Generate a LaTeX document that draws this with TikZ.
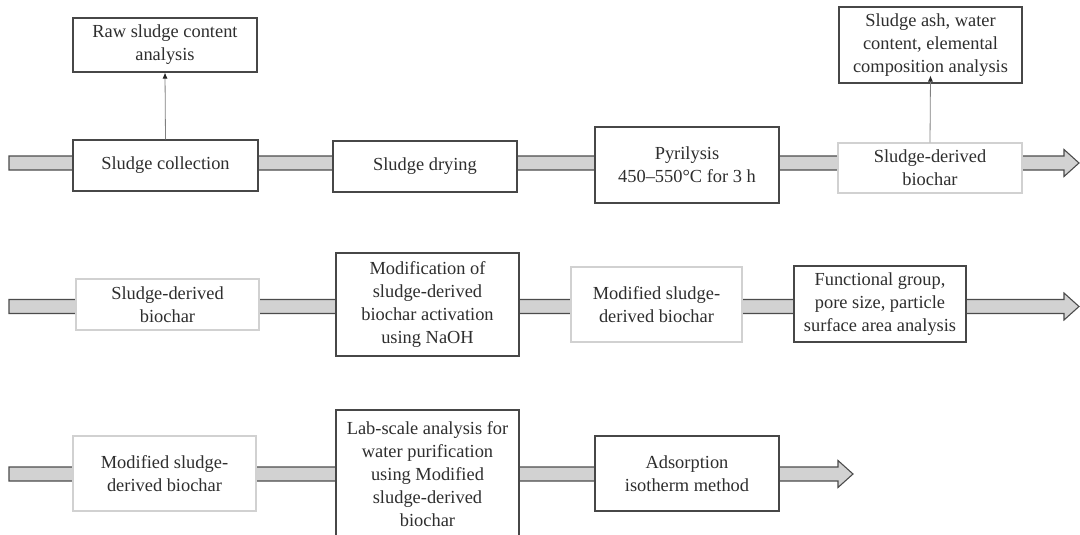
\documentclass[tikz,border=0pt]{standalone}
\usepackage{fontspec}
\setmainfont{Liberation Serif}
\usetikzlibrary{arrows.meta,calc,positioning}

\tikzset{
  etape/.style={draw=black!72, line width=1.1pt, fill=white, align=center, inner sep=2pt,
    text=black!82, font=\fontsize{18.4}{23}\selectfont},
  etapeclaire/.style={etape, draw=black!18},
  bandeflux/.style={draw=black!70, line width=1.1pt, fill=gray!35},
  fleche/.style={draw=black!50, line width=0.8pt, -{Latex[length=6pt,width=5pt,black!85]}}
}

% bande de flux entre deux coordonnees de meme hauteur
\newcommand{\bandeflux}[2]{%
  \filldraw[bandeflux] ($(#1)+(0,-\demi)$) -- ($(#2)+(-\longpointe,-\demi)$)
    -- ($(#2)+(-\longpointe,-\pointe)$) -- (#2) -- ($(#2)+(-\longpointe,\pointe)$)
    -- ($(#2)+(-\longpointe,\demi)$) -- ($(#1)+(0,\demi)$) -- cycle;}

\begin{document}
\begin{tikzpicture}[x=1pt,y=-1pt]

%%%%%%%%%%%%%%%%%%%%%%
%%%	 Def geometrie  %%%
%%%%%%%%%%%%%%%%%%%%%%

\def \demi{7}
\def \pointe{13.5}
\def \longpointe{15}
\def \ligneun{163}
\def \lignedeux{306.5}
\def \lignetrois{474}

\useasboundingbox[fill=white] (0,0) rectangle (1080,535);
\clip (0,0) rectangle (1080,535);

%%%%%%%%%%%%%%%%%%%%%%
%%%	    Bandes      %%%
%%%%%%%%%%%%%%%%%%%%%%

\coordinate (debutun) at (9,\ligneun);
\coordinate (finun) at (1079,\ligneun);
\coordinate (debutdeux) at (9,\lignedeux);
\coordinate (findeux) at (1079,\lignedeux);
\coordinate (debuttrois) at (9,\lignetrois);
\coordinate (fintrois) at (853,\lignetrois);

\bandeflux{debutun}{finun}
\bandeflux{debutdeux}{findeux}
\bandeflux{debuttrois}{fintrois}

%%%%%%%%%%%%%%%%%%%%%%
%%%	   Ligne 1      %%%
%%%%%%%%%%%%%%%%%%%%%%

\node[etape, minimum width=185pt, minimum height=51pt] (collecte) at (165.5,165.5) {Sludge collection};
\node[etape, minimum width=184pt, minimum height=51pt] (sechage) at (425,166.5) {Sludge drying};
\node[etape, minimum width=184pt, minimum height=76pt] (pyrolyse) at (687,165) {Pyrilysis\\450--550\textdegree C for 3 h};
\node[etapeclaire, minimum width=184pt, minimum height=50pt] (biocharun) at (930,168) {Sludge-derived\\biochar};

\node[etape, minimum width=184pt, minimum height=54pt] (brut) at (165,45) {Raw sludge content\\analysis};
\node[etape, minimum width=183pt, minimum height=76pt] (cendres) at (930.5,45) {Sludge ash, water\\content, elemental\\composition analysis};

% fleches vers les analyses
\draw[fleche] (collecte.north) -- (brut.south);
\draw[fleche] (biocharun.north) -- ([yshift=8pt]cendres.south);

%%%%%%%%%%%%%%%%%%%%%%
%%%	   Ligne 2      %%%
%%%%%%%%%%%%%%%%%%%%%%

\node[etapeclaire, minimum width=183pt, minimum height=51pt] (biochardeux) at (167.5,304.5) {Sludge-derived\\biochar};
\node[etape, minimum width=183pt, minimum height=103pt] (modif) at (427.5,304.5) {Modification of\\sludge-derived\\biochar activation\\using NaOH};
\node[etapeclaire, minimum width=171pt, minimum height=75pt] (modifiedeux) at (656.5,304.5) {Modified sludge-\\derived biochar};
\node[etape, minimum width=172pt, minimum height=76pt] (fonction) at (880,304) {Functional group,\\pore size, particle\\surface area analysis};

%%%%%%%%%%%%%%%%%%%%%%
%%%	   Ligne 3      %%%
%%%%%%%%%%%%%%%%%%%%%%

\node[etapeclaire, minimum width=183pt, minimum height=75pt] (modifietrois) at (164.5,473.5) {Modified sludge-\\derived biochar};
\node[etape, minimum width=183pt, minimum height=128pt] (labo) at (427.5,474) {Lab-scale analysis for\\water purification\\using Modified\\sludge-derived\\biochar};
\node[etape, minimum width=184pt, minimum height=75pt] (adsorption) at (687,473.5) {Adsorption\\isotherm method};

\end{tikzpicture}
\end{document}
